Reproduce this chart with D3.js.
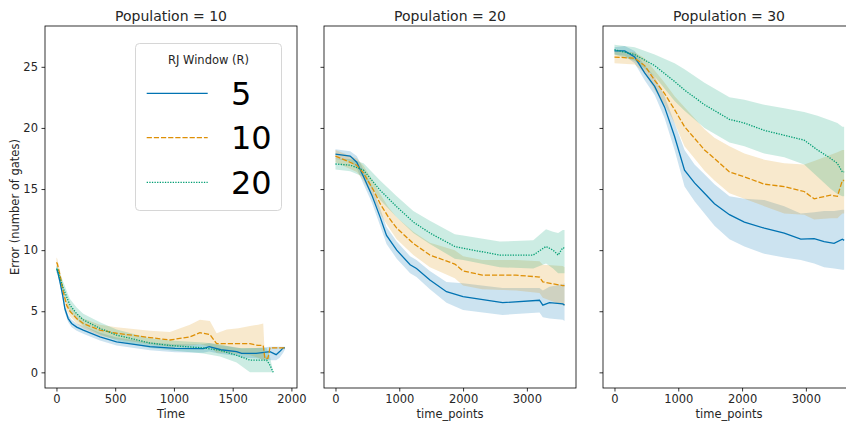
<!DOCTYPE html>
<html>
<head>
<meta charset="utf-8">
<script src="https://cdn.jsdelivr.net/npm/d3@7/dist/d3.min.js"></script>
<style>
  html, body { margin: 0; padding: 0; background: #fff; }
  svg { display: block; font-family: "DejaVu Sans", sans-serif; }
</style>
</head>
<body>
<svg id="chart" width="846" height="423"></svg>
<script>
// ---- Data: rows are [time, mean, lower, upper] ----
const seriesNames = ["5", "10", "20"];
const panelTitles = ["Population = 10", "Population = 20", "Population = 30"];
const xLabels = ["Time", "time_points", "time_points"];
const xTicksP10 = [0, 500, 1000, 1500, 2000];
const xTicksP20 = [0, 1000, 2000, 3000];
const yTicks = [0, 5, 10, 15, 20, 25];

const pop10_r5 = [
  [0, 8.4, 8.2, 8.6], [7, 8.37, 8.1, 8.6], [30, 7.4, 7.1, 7.7], [53, 6.3, 6.0, 6.6], [72, 5.2, 4.9, 5.5],
  [100, 4.4, 4.1, 4.7], [129, 4.0, 3.7, 4.3], [172, 3.7, 3.4, 4.0],
  [228, 3.45, 3.15, 3.8], [370, 2.9, 2.6, 3.25], [512, 2.5, 2.2, 2.85], [796, 2.1, 1.8, 2.45],
  [1009, 1.96, 1.65, 2.3], [1250, 1.95, 1.6, 2.3], [1300, 2.1, 1.7, 2.4], [1400, 1.85, 1.5, 2.2],
  [1533, 1.7, 1.35, 2.05], [1576, 1.55, 1.2, 1.95], [1700, 1.55, 1.15, 2.0], [1817, 1.7, 1.0, 2.1],
  [1870, 1.45, 1.0, 2.1], [1900, 1.7, 1.2, 2.1], [1930, 2.0, 1.6, 2.1], [1945, 2.0, 1.9, 2.1]
];
const pop10_r10 = [
  [0, 9.0, 8.6, 9.4], [7, 8.9, 8.5, 9.3], [30, 7.95, 7.55, 8.35], [58, 6.6, 6.2, 7.0], [86, 5.5, 5.1, 5.9],
  [115, 5.0, 4.6, 5.4], [172, 4.4, 4.0, 4.8],
  [228, 4.0, 3.6, 4.4], [370, 3.45, 3.0, 3.9], [512, 3.2, 2.7, 3.7], [796, 2.85, 2.3, 3.4],
  [966, 2.65, 2.1, 3.3], [1136, 2.9, 2.2, 3.9], [1221, 3.25, 2.3, 4.3], [1306, 3.1, 2.1, 4.2],
  [1363, 2.35, 1.6, 3.2], [1450, 2.35, 1.6, 3.5], [1550, 2.35, 1.5, 3.6], [1647, 2.35, 1.4, 3.8],
  [1717, 2.2, 1.2, 3.9], [1760, 2.2, 1.0, 4.0], [1774, 1.15, 1.0, 1.3], [1800, 1.15, 1.0, 1.3],
  [1817, 2.0, 1.95, 2.05], [1945, 2.0, 1.95, 2.05]
];
const pop10_r20 = [
  [0, 8.4, 8.1, 8.7], [7, 8.5, 8.2, 8.8], [30, 7.7, 7.3, 8.1], [58, 6.9, 6.4, 7.4], [86, 6.2, 5.7, 6.7],
  [115, 5.5, 5.0, 6.0], [172, 4.8, 4.3, 5.3],
  [228, 4.3, 3.8, 4.8], [370, 3.6, 3.1, 4.1], [512, 3.05, 2.6, 3.5], [796, 2.4, 2.0, 2.8],
  [966, 2.2, 1.8, 2.6], [1250, 2.0, 1.55, 2.45], [1392, 1.8, 1.3, 2.3], [1533, 1.4, 0.8, 2.0],
  [1647, 1.0, 0.0, 2.0], [1789, 1.0, 0.0, 2.0], [1817, 0.6, 0.0, 1.3], [1845, 0.0, 0.0, 0.0]
];

const pop20_r5 = [
  [0, 17.85, 17.45, 18.25], [230, 17.7, 17.3, 18.1], [334, 17.2, 16.7, 17.7], [440, 16.0, 15.4, 16.6],
  [570, 14.5, 13.9, 15.2], [700, 12.7, 12.0, 13.4], [800, 11.2, 10.5, 11.9], [960, 10.0, 9.3, 10.7],
  [1170, 8.8, 8.1, 9.5], [1270, 8.5, 7.8, 9.2], [1480, 7.55, 6.8, 8.3], [1740, 6.6, 5.7, 7.4],
  [2000, 6.2, 5.1, 7.3], [2620, 5.7, 4.7, 6.9], [3198, 5.9, 4.9, 6.9], [3250, 5.5, 4.5, 6.7],
  [3354, 5.7, 4.4, 7.0], [3563, 5.6, 4.3, 7.2], [3590, 5.5, 4.2, 7.3]
];
const pop20_r10 = [
  [0, 17.7, 17.2, 18.2], [334, 16.95, 16.4, 17.5], [440, 16.3, 15.7, 16.9], [596, 14.9, 14.2, 15.6],
  [700, 13.8, 13.0, 14.6], [830, 12.7, 11.9, 13.5], [960, 11.8, 10.9, 12.7], [1220, 10.55, 9.6, 11.5],
  [1480, 9.6, 8.6, 10.6], [1870, 8.86, 7.7, 10.0], [2000, 8.3, 7.1, 9.5], [2300, 7.96, 6.8, 9.2],
  [2830, 7.95, 6.7, 9.2], [3198, 7.8, 6.5, 9.1], [3250, 7.4, 6.1, 8.8], [3563, 7.1, 5.5, 8.7],
  [3590, 7.1, 5.4, 8.6]
];
const pop20_r20 = [
  [0, 17.05, 16.6, 17.5], [230, 16.95, 16.45, 17.45], [440, 16.55, 16.0, 17.1], [700, 14.9, 14.1, 15.7],
  [960, 13.55, 12.7, 14.4], [1220, 12.3, 11.4, 13.2], [1480, 11.4, 10.5, 12.4], [1870, 10.3, 9.3, 11.3],
  [2000, 10.15, 9.2, 11.2], [2575, 9.6, 8.6, 10.7], [3100, 9.6, 8.5, 10.8], [3300, 10.3, 8.9, 11.7],
  [3410, 10.0, 8.5, 11.5], [3490, 9.6, 8.1, 11.4], [3563, 10.2, 8.1, 11.65], [3590, 10.15, 8.1, 11.65]
];

const pop30_r5 = [
  [0, 26.3, 26.0, 26.6], [160, 26.3, 25.9, 26.7], [317, 25.8, 25.3, 26.3], [473, 24.5, 23.9, 25.1],
  [630, 23.4, 22.7, 24.2], [786, 21.7, 20.8, 22.6], [942, 19.3, 18.2, 20.4], [1098, 16.55, 15.2, 18.2],
  [1255, 15.5, 14.0, 17.0], [1411, 14.65, 13.0, 16.2], [1567, 13.8, 12.0, 15.4], [1802, 12.9, 10.9, 14.4],
  [2036, 12.3, 10.3, 14.2], [2348, 11.8, 9.7, 14.1], [2661, 11.4, 9.4, 13.6], [2920, 10.9, 9.2, 13.0],
  [3130, 10.95, 8.9, 13.1], [3286, 10.7, 8.6, 13.2], [3442, 10.55, 8.5, 13.2], [3572, 10.9, 8.4, 13.3],
  [3600, 10.8, 8.4, 13.3]
];
const pop30_r10 = [
  [0, 25.8, 25.3, 26.3], [317, 25.7, 25.2, 26.2], [473, 25.1, 24.5, 25.7], [630, 23.9, 23.1, 24.7],
  [786, 22.8, 21.9, 23.7], [942, 21.5, 20.4, 22.6], [1098, 20.1, 18.5, 21.7], [1255, 19.15, 17.5, 20.8],
  [1411, 18.2, 16.5, 19.9], [1567, 17.5, 15.7, 19.2], [1802, 16.4, 14.65, 18.5], [2036, 16.0, 14.2, 17.9],
  [2348, 15.4, 13.6, 17.4], [2661, 15.2, 13.0, 17.1], [2973, 14.8, 12.9, 17.0], [3130, 14.2, 12.5, 17.3],
  [3390, 14.5, 12.6, 17.8], [3494, 14.4, 12.6, 18.0], [3572, 15.7, 13.0, 18.2], [3600, 15.7, 13.0, 18.2]
];
const pop30_r20 = [
  [0, 26.4, 26.0, 26.8], [317, 26.0, 25.5, 26.6], [630, 25.1, 24.2, 26.0], [942, 23.8, 22.2, 25.3],
  [1098, 23.1, 21.4, 24.8], [1411, 21.9, 20.0, 23.7], [1802, 20.7, 18.8, 22.5], [2036, 20.4, 18.5, 22.3],
  [2348, 19.8, 17.9, 21.9], [2661, 19.4, 17.6, 21.6], [2973, 19.0, 17.0, 21.3], [3182, 18.2, 16.0, 21.0],
  [3390, 17.5, 15.0, 20.6], [3494, 17.1, 14.6, 20.4], [3572, 16.4, 14.4, 20.1], [3600, 16.4, 14.4, 20.1]
];

// ---- Styles ----
const colors = ["#0173b2", "#de8f05", "#029e73"];
const lw = 1.3;
const dashes = [null, `${4 * lw},${1.5 * lw}`, `${1 * lw},${1 * lw}`];

const panels = [
  { data: [pop10_r5, pop10_r10, pop10_r20], xDomain: [-97.5, 2047.5], ticks: xTicksP10 },
  { data: [pop20_r5, pop20_r10, pop20_r20], xDomain: [-180, 3770], ticks: xTicksP20 },
  { data: [pop30_r5, pop30_r10, pop30_r20], xDomain: [-180, 3770], ticks: xTicksP20 }
];

const svg = d3.select("#chart");
const panelLeft = [45, 324, 603];
const panelW = 252, plotTop = 26, panelH = 362;

const y = d3.scaleLinear().domain([-1.28, 28.34]).range([plotTop + panelH, plotTop]);

panels.forEach((p, i) => {
  const x0 = panelLeft[i];
  const x = d3.scaleLinear().domain(p.xDomain).range([x0, x0 + panelW]);
  const g = svg.append("g");

  const clipId = "clip" + i;
  svg.append("clipPath").attr("id", clipId)
    .append("rect").attr("x", x0).attr("y", plotTop).attr("width", panelW).attr("height", panelH);

  const plot = g.append("g").attr("clip-path", `url(#${clipId})`);
  const bands = plot.append("g");
  const lines = plot.append("g");
  p.data.forEach((s, k) => {
    const line = d3.line().x(d => x(d[0])).y(d => y(d[1]));
    const area = d3.area().x(d => x(d[0])).y0(d => y(d[2])).y1(d => y(d[3]));
    bands.append("path").datum(s).attr("d", area)
      .attr("fill", colors[k]).attr("fill-opacity", 0.2).attr("stroke", "none");
    lines.append("path").datum(s).attr("d", line)
      .attr("fill", "none").attr("stroke", colors[k]).attr("stroke-width", lw)
      .attr("stroke-dasharray", dashes[k]);
  });

  // axes
  const xAxis = d3.axisBottom(x).tickValues(p.ticks).tickSize(3.5).tickPadding(3.5).tickFormat(d3.format("d"));
  const gx = g.append("g").attr("transform", `translate(0,${plotTop + panelH})`).call(xAxis);
  const yAxis = d3.axisLeft(y).tickValues(yTicks).tickSize(3.5).tickPadding(3.5)
    .tickFormat(i === 0 ? d3.format("d") : () => "");
  const gy = g.append("g").attr("transform", `translate(${x0},0)`).call(yAxis);
  [gx, gy].forEach(a => {
    a.select(".domain").remove();
    a.selectAll(".tick line").attr("stroke", "#000").attr("stroke-width", 0.8);
    a.selectAll(".tick text").attr("fill", "#262626").style("font-size", "11.5px")
      .style("font-family", "'DejaVu Sans', sans-serif");
  });

  // frame
  g.append("rect").attr("x", x0).attr("y", plotTop).attr("width", panelW).attr("height", panelH)
    .attr("fill", "none").attr("stroke", "#000").attr("stroke-width", 0.8);

  // title & x label
  g.append("text").attr("x", x0 + panelW / 2).attr("y", 21).attr("text-anchor", "middle")
    .style("font-size", "14px").attr("fill", "#262626").text(panelTitles[i]);
  g.append("text").attr("x", x0 + panelW / 2).attr("y", 418).attr("text-anchor", "middle")
    .style("font-size", "11.5px").attr("fill", "#262626").text(xLabels[i]);
});

// y label
svg.append("text").attr("transform", `translate(19,${plotTop + panelH / 2}) rotate(-90)`)
  .attr("text-anchor", "middle").style("font-size", "11.5px").attr("fill", "#262626")
  .text("Error (number of gates)");

// legend
const lg = svg.append("g");
lg.append("rect").attr("x", 135.5).attr("y", 43.5).attr("width", 146).attr("height", 167).attr("rx", 4)
  .attr("fill", "#fff").attr("fill-opacity", 0.8).attr("stroke", "#cccccc").attr("stroke-width", 0.8);
lg.append("text").attr("x", 208.5).attr("y", 64).attr("text-anchor", "middle")
  .style("font-size", "11.5px").attr("fill", "#262626").text("RJ Window (R)");
const legY = [93.3, 137.7, 182.3];
seriesNames.forEach((n, k) => {
  lg.append("line").attr("x1", 146.7).attr("x2", 207.7).attr("y1", legY[k]).attr("y2", legY[k])
    .attr("stroke", colors[k]).attr("stroke-width", lw).attr("stroke-dasharray", dashes[k]);
  lg.append("text").attr("x", 231).attr("y", legY[k] + 11.6)
    .style("font-size", "32px").attr("fill", "#000").text(n);
});
</script>
</body>
</html>
